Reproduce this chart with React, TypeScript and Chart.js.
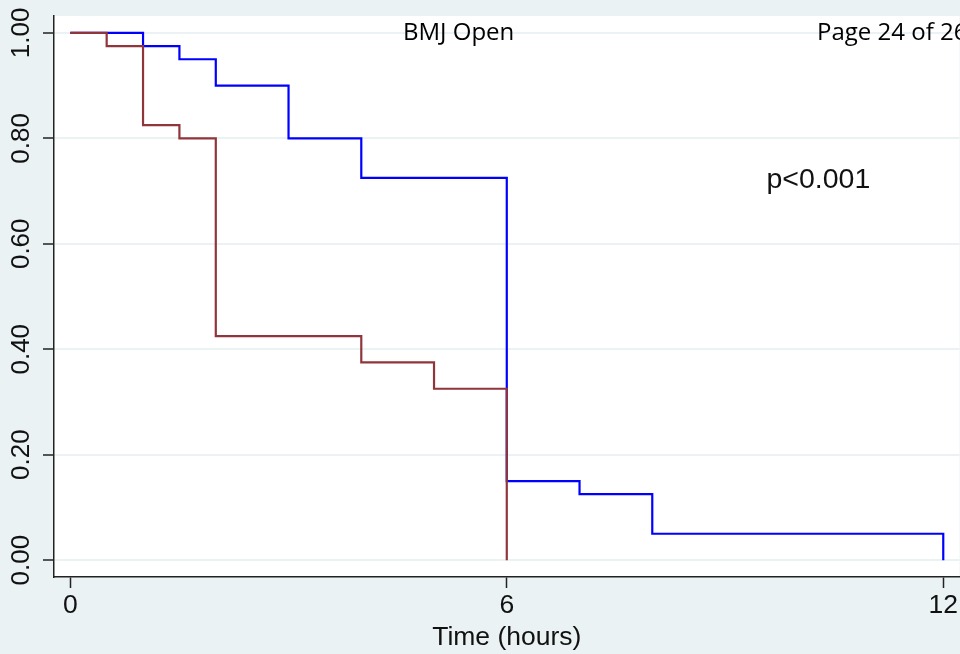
import React, { useEffect, useRef } from "react";
import { Chart, registerables } from "chart.js";

Chart.register(...registerables);

// Kaplan-Meier step data (time in hours, survival proportion)
const blueTimes = [0, 1, 1.5, 2, 3, 4, 6, 7, 8, 12];
const blueSurv = [1, 0.975, 0.95, 0.9, 0.8, 0.725, 0.15, 0.125, 0.05, 0];
const maroonTimes = [0, 0.5, 1, 1.5, 2, 4, 5, 6];
const maroonSurv = [1, 0.975, 0.825, 0.8, 0.425, 0.375, 0.325, 0];

const xTickValues = [0, 6, 12];
const yTickValues = [0, 0.2, 0.4, 0.6, 0.8, 1.0];
const xTitleText = "Time (hours)";
const pValueText = "p<0.001";
const pValueAt = [9.57, 0.72];
const headerText = "BMJ Open";
const pageText = "Page 24 of 26";

const BG = "#eaf2f3";
const AXIS_FONT = "'Liberation Sans', Arial, Helvetica, sans-serif";

export default function App() {
  const canvasRef = useRef<HTMLCanvasElement | null>(null);

  useEffect(() => {
    document.body.style.margin = "0";
    document.body.style.background = BG;
    const canvas = canvasRef.current;
    if (!canvas) return;

    const bgPlugin = {
      id: "stataBg",
      beforeDraw(chart: any) {
        const { ctx, chartArea, width, height } = chart;
        ctx.save();
        ctx.fillStyle = BG;
        ctx.fillRect(0, 0, width, height);
        ctx.fillStyle = "#ffffff";
        ctx.fillRect(
          chartArea.left,
          chartArea.top,
          chartArea.right - chartArea.left,
          chartArea.bottom - chartArea.top
        );
        ctx.restore();
      },
      afterDraw(chart: any) {
        const { ctx } = chart;
        const xs = chart.scales.x;
        const ys = chart.scales.y;
        ctx.save();
        ctx.fillStyle = "#111";
        ctx.textBaseline = "middle";
        ctx.textAlign = "left";
        ctx.font = `28.5px ${AXIS_FONT}`;
        ctx.fillText(pValueText, xs.getPixelForValue(pValueAt[0]), ys.getPixelForValue(pValueAt[1]));
        ctx.textBaseline = "alphabetic";
        ctx.font = `24px 'Open Sans', 'Noto Sans', sans-serif`;
        ctx.fillStyle = "#000";
        ctx.fillText(headerText, 403, 40);
        ctx.fillText(pageText, 817, 40);
        ctx.restore();
      },
    };

    const chart = new Chart(canvas, {
      type: "line",
      data: {
        datasets: [
          {
            label: "blue",
            data: blueTimes.map((t, i) => ({ x: t, y: blueSurv[i] })),
            borderColor: "#0000ff",
            borderWidth: 2.2,
            stepped: "before",
            pointRadius: 0,
            fill: false,
            order: 1,
          },
          {
            label: "maroon",
            data: maroonTimes.map((t, i) => ({ x: t, y: maroonSurv[i] })),
            borderColor: "#90353b",
            borderWidth: 2.2,
            stepped: "before",
            pointRadius: 0,
            fill: false,
            order: 0,
          },
        ],
      },
      options: {
        animation: false,
        responsive: false,
        events: [],
        layout: { padding: { top: 16, left: 0, right: 0, bottom: 0 } },
        plugins: {
          legend: { display: false },
          tooltip: { enabled: false },
          title: { display: false },
        },
        scales: {
          x: {
            type: "linear",
            min: -0.224,
            max: 12.224,
            afterBuildTicks: (scale: any) => {
              scale.ticks = xTickValues.map((v) => ({ value: v }));
            },
            afterFit: (scale: any) => {
              scale.height = 77;
            },
            ticks: {
              autoSkip: false,
              maxRotation: 0,
              minRotation: 0,
              padding: 2,
              color: "#111",
              font: { family: AXIS_FONT, size: 26.5 },
              callback: (v: any) => String(v),
            },
            grid: {
              drawOnChartArea: false,
              drawTicks: true,
              tickLength: 11,
              tickColor: "#222",
              tickWidth: 1.5,
            },
            border: { color: "#222", width: 1.5 },
            title: {
              display: true,
              text: xTitleText,
              color: "#111",
              font: { family: AXIS_FONT, size: 26.5 },
              padding: 0,
            },
          },
          y: {
            type: "linear",
            min: -0.032,
            max: 1.032,
            afterBuildTicks: (scale: any) => {
              scale.ticks = yTickValues.map((v) => ({ value: v }));
            },
            afterFit: (scale: any) => {
              scale.width = 54;
            },
            ticks: {
              autoSkip: false,
              minRotation: 90,
              maxRotation: 90,
              crossAlign: "center",
              padding: -4,
              color: "#111",
              font: { family: AXIS_FONT, size: 26 },
              callback: (v: any) => Number(v).toFixed(2),
            },
            grid: {
              color: BG,
              lineWidth: 2,
              drawTicks: true,
              tickLength: 11,
              tickColor: "#222",
              tickWidth: 1.5,
            },
            border: { color: "#222", width: 1.5 },
          },
        },
      },
      plugins: [bgPlugin],
    } as any);

    return () => {
      chart.destroy();
    };
  }, []);

  return (
    <div style={{ width: 960, height: 654 }}>
      <canvas ref={canvasRef} width={960} height={654} style={{ display: "block" }} />
    </div>
  );
}
